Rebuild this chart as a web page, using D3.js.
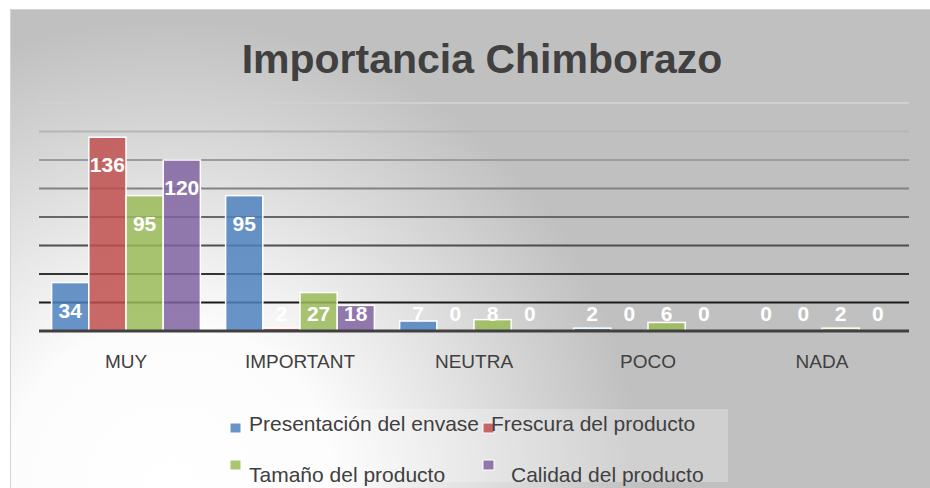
<!DOCTYPE html>
<html>
<head>
<meta charset='utf-8'>
<script src='https://d3js.org/d3.v7.min.js'></script>
<style>
body { margin: 0; background: #fff; }
text { font-family: 'Liberation Sans', Arial, sans-serif; }
</style>
</head>
<body>
<div id="my_dataviz"></div>
<script>
// data
var categories = ['MUY', 'IMPORTANT', 'NEUTRA', 'POCO', 'NADA'];
var seriesNames = ['Presentación del envase', 'Frescura del producto', 'Tamaño del producto', 'Calidad del producto'];
var presentacion = [34, 95, 7, 2, 0];
var frescura = [136, 2, 0, 0, 0];
var tamano = [95, 27, 8, 6, 2];
var calidad = [120, 18, 0, 0, 0];
var yTicks = [20, 40, 60, 80, 100, 120, 140, 160];

var colors = ['#4f81bd', '#c0504d', '#9bbb59', '#8064a2'];
var values = [presentacion, frescura, tamano, calidad];

var width = 930, height = 488;

var svg = d3.select('#my_dataviz')
  .append('svg')
  .attr('width', width)
  .attr('height', height);

var defs = svg.append('defs');
var grad = defs.append('radialGradient')
  .attr('id', 'bg')
  .attr('gradientUnits', 'userSpaceOnUse')
  .attr('cx', 170).attr('cy', 488).attr('r', 470);
grad.append('stop').attr('offset', '0').attr('stop-color', '#ffffff');
grad.append('stop').attr('offset', '0.35').attr('stop-color', '#fcfcfc');
grad.append('stop').attr('offset', '1').attr('stop-color', '#c0c0c0');

svg.append('rect')
  .attr('x', 10.5).attr('y', 9.5)
  .attr('width', 930).attr('height', 490)
  .attr('fill', 'url(#bg)')
  .attr('stroke', '#d4d4d4');

// title
svg.append('text')
  .attr('x', 482)
  .attr('y', 73)
  .attr('text-anchor', 'middle')
  .style('font-size', '41px')
  .style('font-weight', 'bold')
  .style('fill', '#404040')
  .text('Importancia Chimborazo');

var x0 = d3.scaleBand()
  .domain(categories)
  .range([39, 909])
  .paddingInner(0.145)
  .paddingOuter(0.0725);

var x1 = d3.scaleBand()
  .domain(d3.range(seriesNames.length))
  .range([0, x0.bandwidth()]);

var y = d3.scaleLinear()
  .domain([0, 160])
  .range([331, 103]);

// gridlines, darker toward the bottom
var gridShade = d3.scaleLinear().domain([20, 160]).range(['#1a1a1a', '#d0d0d0']);
svg.append('g')
  .selectAll('line')
  .data(yTicks)
  .enter()
  .append('line')
  .attr('x1', 39).attr('x2', 909)
  .attr('y1', function(d) { return y(d); })
  .attr('y2', function(d) { return y(d); })
  .style('stroke', function(d) { return gridShade(d); })
  .style('stroke-width', 2);

// bars
var groups = svg.append('g')
  .selectAll('g')
  .data(categories)
  .enter()
  .append('g')
  .attr('transform', function(d) { return 'translate(' + x0(d) + ',0)'; });

groups.selectAll('rect')
  .data(function(d, i) { return values.map(function(v, s) { return {s: s, v: v[i]}; }); })
  .enter()
  .append('rect')
  .attr('x', function(d) { return x1(d.s); })
  .attr('y', function(d) { return y(d.v); })
  .attr('width', x1.bandwidth())
  .attr('height', function(d) { return y(0) - y(d.v); })
  .style('fill', function(d) { return colors[d.s]; })
  .style('fill-opacity', 0.85)
  .style('stroke', '#ffffff')
  .style('stroke-width', 1.5);

// baseline
svg.append('line')
  .attr('x1', 39).attr('x2', 909)
  .attr('y1', y(0)).attr('y2', y(0))
  .style('stroke', '#404040')
  .style('stroke-width', 3);

// value labels
groups.selectAll('text')
  .data(function(d, i) { return values.map(function(v, s) { return {s: s, v: v[i]}; }); })
  .enter()
  .append('text')
  .attr('x', function(d) { return x1(d.s) + x1.bandwidth() / 2; })
  .attr('y', function(d) { return Math.min(y(d.v) + 28, 314) + 7; })
  .attr('text-anchor', 'middle')
  .style('font-size', '21px')
  .style('font-weight', 'bold')
  .style('fill', '#ffffff')
  .text(function(d) { return d.v; });

// category labels
svg.append('g')
  .selectAll('text')
  .data(categories)
  .enter()
  .append('text')
  .attr('x', function(d) { return x0(d) + x0.bandwidth() / 2; })
  .attr('y', 368)
  .attr('text-anchor', 'middle')
  .style('font-size', '19px')
  .style('fill', '#404040')
  .text(function(d) { return d; });

// legend
svg.append('rect')
  .attr('x', 221).attr('y', 409)
  .attr('width', 507).attr('height', 73)
  .style('fill', '#ffffff')
  .style('fill-opacity', 0.25);

var legendPos = [
  {sx: 230, sy: 423, tx: 249, ty: 431},
  {sx: 483, sy: 423, tx: 491, ty: 431},
  {sx: 230, sy: 460, tx: 249, ty: 482},
  {sx: 483, sy: 460, tx: 511, ty: 482}
];

var legend = svg.append('g')
  .selectAll('g')
  .data(seriesNames)
  .enter()
  .append('g');

legend.append('rect')
  .attr('x', function(d, i) { return legendPos[i].sx; })
  .attr('y', function(d, i) { return legendPos[i].sy; })
  .attr('width', 11).attr('height', 10)
  .style('fill', function(d, i) { return colors[i]; })
  .style('fill-opacity', 0.85)
  .style('stroke', '#ffffff')
  .style('stroke-width', 1);

legend.append('text')
  .attr('x', function(d, i) { return legendPos[i].tx; })
  .attr('y', function(d, i) { return legendPos[i].ty; })
  .style('font-size', '21px')
  .style('fill', '#404040')
  .text(function(d) { return d; });
</script>
</body>
</html>
